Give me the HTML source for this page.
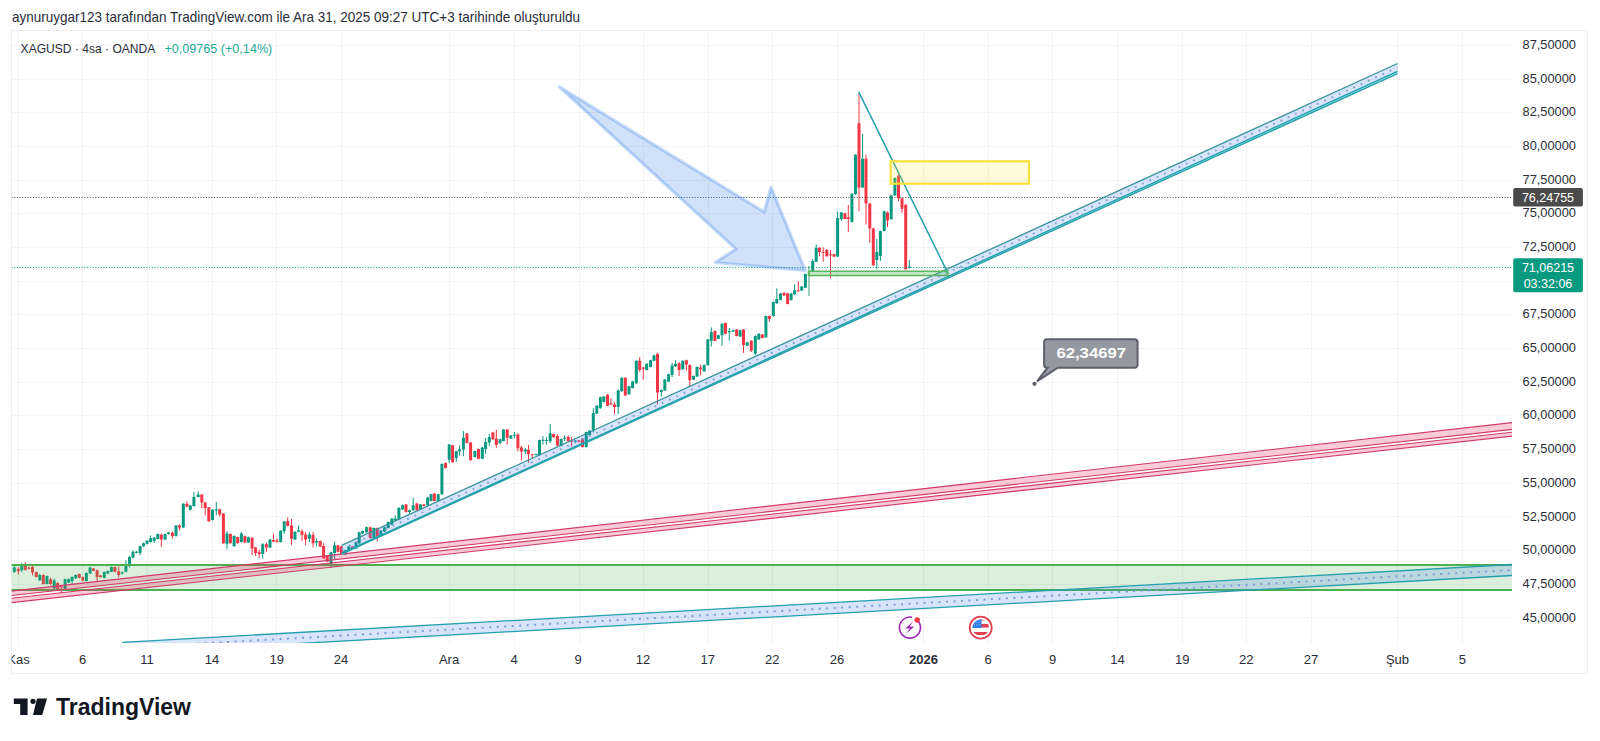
<!DOCTYPE html>
<html><head><meta charset="utf-8"><style>
html,body{margin:0;padding:0;background:#fff;width:1600px;height:741px;overflow:hidden}
svg{display:block;font-family:"Liberation Sans",sans-serif}
</style></head><body>
<svg width="1600" height="741" viewBox="0 0 1600 741">
<defs><clipPath id="pane"><rect x="11.5" y="30.5" width="1500.5" height="612.5"/></clipPath>
<clipPath id="taxis"><rect x="11.5" y="643" width="1500.5" height="30.5"/></clipPath></defs>
<rect x="0" y="0" width="1600" height="741" fill="#fff"/>
<text x="12" y="21.6" font-size="14.5" fill="#2a2e39" textLength="568" lengthAdjust="spacingAndGlyphs">aynuruygar123 tarafından TradingView.com ile Ara 31, 2025 09:27 UTC+3 tarihinde oluşturuldu</text>
<rect x="11.5" y="30.5" width="1576.0" height="643.0" fill="none" stroke="#eeeeee" stroke-width="1"/>
<g stroke="#f3f3f5" stroke-width="1"><line x1="11.5" y1="45.5" x2="1512" y2="45.5"/><line x1="11.5" y1="79.5" x2="1512" y2="79.5"/><line x1="11.5" y1="112.5" x2="1512" y2="112.5"/><line x1="11.5" y1="146.5" x2="1512" y2="146.5"/><line x1="11.5" y1="180.5" x2="1512" y2="180.5"/><line x1="11.5" y1="213.5" x2="1512" y2="213.5"/><line x1="11.5" y1="247.5" x2="1512" y2="247.5"/><line x1="11.5" y1="281.5" x2="1512" y2="281.5"/><line x1="11.5" y1="314.5" x2="1512" y2="314.5"/><line x1="11.5" y1="348.5" x2="1512" y2="348.5"/><line x1="11.5" y1="382.5" x2="1512" y2="382.5"/><line x1="11.5" y1="415.5" x2="1512" y2="415.5"/><line x1="11.5" y1="449.5" x2="1512" y2="449.5"/><line x1="11.5" y1="483.5" x2="1512" y2="483.5"/><line x1="11.5" y1="516.5" x2="1512" y2="516.5"/><line x1="11.5" y1="550.5" x2="1512" y2="550.5"/><line x1="11.5" y1="584.5" x2="1512" y2="584.5"/><line x1="11.5" y1="617.5" x2="1512" y2="617.5"/><line x1="18.5" y1="30.5" x2="18.5" y2="643"/><line x1="82.5" y1="30.5" x2="82.5" y2="643"/><line x1="147.5" y1="30.5" x2="147.5" y2="643"/><line x1="212.5" y1="30.5" x2="212.5" y2="643"/><line x1="276.5" y1="30.5" x2="276.5" y2="643"/><line x1="341.5" y1="30.5" x2="341.5" y2="643"/><line x1="449.5" y1="30.5" x2="449.5" y2="643"/><line x1="514.5" y1="30.5" x2="514.5" y2="643"/><line x1="579.5" y1="30.5" x2="579.5" y2="643"/><line x1="643.5" y1="30.5" x2="643.5" y2="643"/><line x1="708.5" y1="30.5" x2="708.5" y2="643"/><line x1="772.5" y1="30.5" x2="772.5" y2="643"/><line x1="837.5" y1="30.5" x2="837.5" y2="643"/><line x1="923.5" y1="30.5" x2="923.5" y2="643"/><line x1="988.5" y1="30.5" x2="988.5" y2="643"/><line x1="1052.5" y1="30.5" x2="1052.5" y2="643"/><line x1="1117.5" y1="30.5" x2="1117.5" y2="643"/><line x1="1182.5" y1="30.5" x2="1182.5" y2="643"/><line x1="1246.5" y1="30.5" x2="1246.5" y2="643"/><line x1="1311.5" y1="30.5" x2="1311.5" y2="643"/><line x1="1397.5" y1="30.5" x2="1397.5" y2="643"/><line x1="1462.5" y1="30.5" x2="1462.5" y2="643"/></g><g clip-path="url(#pane)"><path d="M14.3 566.0V573.0M21.8 563.0V572.0M39.8 574.0V581.0M47.0 575.5V584.4M54.2 578.8V590.0M65.1 578.5V590.0M68.6 578.5V583.0M72.1 576.4V584.0M75.7 574.5V579.0M86.4 572.5V581.6M90.1 567.0V574.0M104.3 571.5V578.3M107.8 570.5V574.0M111.4 566.5V572.2M122.3 571.5V574.5M125.9 560.3V572.2M129.5 556.0V567.5M133.0 550.5V558.3M136.5 551.0V553.5M140.1 545.6V555.3M143.6 542.5V547.0M147.1 540.0V544.5M150.6 535.3V542.6M154.2 537.0V543.0M157.8 533.5V539.5M165.1 533.5V540.0M168.5 532.0V534.5M176.0 525.0V536.5M183.3 503.2V528.0M190.3 505.0V510.3M193.9 492.1V506.6M198.2 491.2V497.6M212.5 509.3V520.6M216.3 501.9V515.2M227.0 531.0V549.2M234.1 535.4V546.7M241.4 532.0V542.4M248.4 536.7V543.1M262.7 543.2V558.8M270.0 538.9V548.0M280.7 530.3V542.5M284.2 521.0V533.9M295.0 531.3V539.9M298.6 525.4V532.3M309.4 532.4V542.0M316.6 538.3V546.4M331.0 551.8V568.0M334.6 541.5V559.4M345.2 549.7V555.0M348.8 545.9V551.2M356.0 541.5V549.1M359.2 531.7V543.7M362.6 530.5V533.9M366.5 526.7V532.7M373.9 527.5V538.6M380.8 530.0V535.3M384.5 526.7V531.9M388.2 521.6V528.5M391.8 518.2V525.1M395.2 515.4V521.3M398.9 507.3V520.1M402.6 504.7V510.0M409.5 509.5V513.6M413.2 497.6V510.8M420.5 503.9V510.0M427.6 497.1V505.7M431.0 493.8V501.5M438.2 493.8V501.5M441.9 463.4V494.8M449.2 444.0V463.0M456.3 450.7V462.0M459.6 445.3V455.5M463.4 431.0V456.3M474.9 450.5V457.6M482.3 446.9V459.2M485.6 438.0V453.9M489.3 434.0V446.2M500.0 438.8V443.8M503.4 429.1V441.4M510.9 435.1V439.0M514.4 432.0V438.5M525.3 447.8V454.3M536.0 453.4V455.6M539.5 439.6V455.6M542.9 436.0V444.6M546.4 436.9V444.6M550.2 423.9V443.0M561.1 438.4V446.3M564.6 435.2V441.0M575.3 440.0V442.2M586.2 431.5V447.5M589.6 430.1V435.5M593.3 408.2V432.5M596.8 405.2V414.1M600.4 396.7V408.7M603.8 396.1V402.5M618.2 389.3V414.2M621.7 377.3V391.7M629.0 385.8V394.7M632.6 380.9V388.6M636.3 360.3V383.8M646.7 363.3V370.4M650.6 359.7V367.4M654.0 354.8V361.3M661.3 389.3V396.6M664.8 379.1V391.0M668.6 373.7V381.9M672.1 363.0V377.0M675.5 360.2V367.0M682.8 360.3V369.8M693.5 375.5V380.1M697.0 366.4V377.1M704.2 364.5V371.8M707.8 338.9V365.5M711.3 327.4V346.5M718.4 334.7V339.2M722.0 323.3V345.8M729.3 328.0V340.8M733.0 329.7V332.1M740.1 329.7V337.1M747.2 341.8V346.3M755.3 335.4V355.0M758.8 333.3V339.9M765.9 315.5V337.8M773.3 301.4V316.5M776.8 288.4V304.0M780.5 292.9V300.3M791.1 292.9V300.5M794.6 284.5V295.0M801.7 286.0V291.1M805.4 273.5V288.2M812.7 259.0V272.0M816.2 244.4V262.3M837.6 211.6V257.1M841.3 211.9V221.0M851.9 193.3V222.6M855.5 154.2V194.7M862.6 133.7V188.1M876.8 239.0V269.2M880.4 230.5V261.0M884.2 210.8V231.5M891.2 195.0V219.7M894.9 177.5V196.0M909.4 260.0V268.5" stroke="#089981" stroke-width="1" fill="none"/><path d="M18.3 567.4V574.5M25.3 562.2V570.7M28.9 566.5V569.5M32.5 564.6V575.4M36.3 571.5V577.5M43.3 574.5V584.5M50.6 577.8V585.4M57.7 582.0V590.1M61.3 585.8V593.0M79.3 573.5V578.3M82.8 576.5V581.5M93.5 568.0V571.2M97.1 569.5V582.0M100.5 575.0V577.5M114.9 566.5V572.2M118.7 566.5V577.3M161.3 533.4V546.8M172.4 531.6V538.9M179.5 524.3V530.4M186.9 501.3V507.3M201.8 494.0V508.5M205.2 502.0V515.2M208.8 507.0V521.8M219.7 508.7V516.5M223.4 513.0V543.7M230.4 533.5V543.7M237.7 536.6V543.7M244.9 535.7V543.1M252.1 537.3V555.0M255.6 547.0V556.0M259.2 549.6V558.3M266.4 542.6V551.8M273.5 534.0V542.0M277.0 538.3V542.6M287.7 517.3V526.4M291.5 518.9V544.8M302.0 529.1V541.0M305.6 531.8V545.3M313.1 531.8V547.5M320.2 540.5V546.9M323.6 543.0V558.8M327.2 555.6V562.0M338.0 544.8V552.3M341.4 545.9V554.5M352.4 545.9V548.5M370.2 526.7V538.6M377.3 527.5V541.5M406.0 503.9V512.5M416.9 503.0V510.8M423.9 503.9V506.6M434.3 492.9V501.5M445.6 462.5V468.6M452.6 444.8V462.7M466.9 433.0V443.3M470.6 442.0V460.8M478.5 448.5V459.2M492.9 431.9V439.8M496.3 429.6V447.8M507.2 429.1V444.6M517.9 433.2V451.4M521.4 445.8V460.7M528.5 445.0V462.8M532.2 453.9V458.7M553.6 433.5V437.8M557.4 434.0V445.9M568.2 435.2V441.7M571.6 436.9V446.6M578.9 440.0V442.2M582.5 438.0V447.5M607.5 394.3V406.2M610.9 398.4V405.0M614.5 402.0V414.2M625.3 377.3V395.9M639.7 357.1V371.7M643.3 366.9V379.6M657.5 352.9V404.5M679.1 362.0V376.0M686.4 359.7V370.5M689.8 364.5V385.7M700.6 364.5V375.4M714.9 330.4V341.3M725.5 322.6V334.3M736.6 329.0V336.4M743.5 329.0V352.9M751.3 340.3V352.0M762.3 334.0V338.5M769.4 315.5V321.7M784.0 292.2V296.0M787.6 292.9V304.5M798.3 281.3V291.8M819.5 247.2V256.2M823.2 247.3V261.8M826.8 249.2V256.7M830.5 250.1V278.4M834.0 253.7V257.1M844.9 212.7V219.4M848.3 205.0V231.9M859.0 92.9V211.3M866.0 154.7V224.5M869.8 202.9V242.9M873.3 227.9V265.8M887.5 211.5V227.0M898.5 174.5V201.0M902.0 197.7V213.0M905.7 204.2V269.7" stroke="#f23645" stroke-width="1" fill="none"/><path d="M12.8 567.4h3V571.7h-3zM20.3 565.0h3V570.2h-3zM38.3 575.0h3V580.2h-3zM45.5 575.9h3V584.0h-3zM52.7 580.6h3V588.2h-3zM63.6 579.2h3V589.6h-3zM67.1 579.2h3V582.5h-3zM70.6 576.9h3V581.1h-3zM74.2 575.0h3V578.3h-3zM84.9 573.0h3V581.1h-3zM88.6 567.4h3V573.6h-3zM102.8 572.1h3V577.8h-3zM106.3 571.0h3V573.6h-3zM109.9 567.0h3V571.7h-3zM120.8 572.6h3V573.6h-3zM124.4 564.6h3V571.7h-3zM128.0 557.1h3V565.0h-3zM131.5 551.7h3V557.7h-3zM135.0 551.7h3V552.7h-3zM138.6 546.2h3V552.9h-3zM142.1 543.2h3V546.2h-3zM145.6 540.7h3V543.8h-3zM149.1 538.3h3V541.9h-3zM152.7 537.7h3V540.7h-3zM156.3 534.0h3V538.9h-3zM163.6 534.0h3V539.5h-3zM167.0 532.5h3V534.0h-3zM174.5 525.5h3V535.9h-3zM181.8 503.7h3V527.4h-3zM188.8 505.5h3V509.8h-3zM192.4 497.0h3V506.1h-3zM196.7 494.6h3V497.0h-3zM211.0 509.8h3V520.1h-3zM214.8 509.2h3V510.4h-3zM225.5 533.4h3V543.8h-3zM232.6 535.9h3V546.2h-3zM239.9 533.4h3V541.9h-3zM246.9 537.2h3V542.6h-3zM261.2 544.2h3V554.0h-3zM268.5 539.4h3V547.5h-3zM279.2 530.8h3V542.0h-3zM282.7 521.6h3V531.3h-3zM293.5 531.8h3V539.4h-3zM297.1 530.2h3V531.8h-3zM307.9 534.5h3V538.8h-3zM315.1 541.0h3V542.6h-3zM329.5 552.3h3V564.7h-3zM333.1 545.3h3V552.9h-3zM343.7 550.2h3V554.5h-3zM347.3 546.4h3V550.7h-3zM354.5 542.0h3V548.6h-3zM357.7 532.2h3V543.2h-3zM361.1 531.0h3V533.4h-3zM365.0 527.2h3V532.2h-3zM372.4 528.0h3V538.1h-3zM379.3 530.5h3V534.8h-3zM383.0 527.2h3V531.4h-3zM386.7 522.1h3V528.0h-3zM390.3 518.7h3V524.6h-3zM393.7 518.4h3V520.4h-3zM397.4 507.8h3V519.6h-3zM401.1 505.2h3V509.5h-3zM408.0 510.3h3V512.0h-3zM411.7 505.2h3V510.3h-3zM419.0 504.4h3V509.5h-3zM426.1 497.6h3V505.2h-3zM429.5 494.3h3V501.0h-3zM436.7 494.3h3V501.0h-3zM440.4 463.9h3V494.3h-3zM447.7 444.5h3V459.7h-3zM454.8 451.2h3V458.0h-3zM458.1 449.5h3V451.2h-3zM461.9 437.7h3V449.5h-3zM473.4 451.0h3V457.1h-3zM480.8 447.4h3V458.7h-3zM484.1 442.1h3V449.0h-3zM487.8 436.9h3V442.5h-3zM498.5 439.3h3V443.3h-3zM501.9 429.6h3V440.9h-3zM509.4 435.6h3V438.5h-3zM512.9 434.8h3V435.8h-3zM523.8 449.4h3V451.4h-3zM534.5 453.9h3V455.1h-3zM538.0 440.1h3V455.1h-3zM541.4 439.7h3V440.7h-3zM544.9 440.1h3V441.1h-3zM548.7 433.2h3V441.3h-3zM559.6 438.9h3V445.8h-3zM563.1 437.7h3V438.7h-3zM573.8 440.5h3V441.7h-3zM584.7 432.0h3V447.0h-3zM588.1 430.6h3V435.0h-3zM591.8 413.0h3V430.0h-3zM595.3 405.7h3V413.6h-3zM598.9 397.2h3V408.2h-3zM602.3 396.6h3V402.0h-3zM616.7 390.5h3V407.0h-3zM620.2 377.8h3V391.2h-3zM627.5 386.3h3V394.2h-3zM631.1 381.4h3V388.1h-3zM634.8 360.8h3V383.3h-3zM645.2 363.8h3V369.9h-3zM649.1 360.2h3V366.9h-3zM652.5 355.3h3V360.8h-3zM659.8 390.0h3V392.0h-3zM663.3 379.6h3V390.5h-3zM667.1 374.2h3V381.4h-3zM670.6 365.6h3V374.8h-3zM674.0 363.8h3V366.3h-3zM681.3 360.8h3V369.3h-3zM692.0 376.0h3V379.6h-3zM695.5 366.9h3V376.6h-3zM702.7 365.0h3V371.3h-3zM706.3 339.4h3V365.0h-3zM709.8 332.3h3V340.8h-3zM716.9 335.2h3V338.7h-3zM720.5 323.8h3V335.2h-3zM727.8 330.9h3V332.3h-3zM731.5 330.2h3V331.6h-3zM738.6 330.2h3V336.6h-3zM745.7 342.3h3V345.8h-3zM753.8 335.9h3V353.6h-3zM757.3 333.8h3V339.4h-3zM764.4 316.0h3V337.3h-3zM771.8 301.9h3V316.0h-3zM775.3 299.0h3V303.3h-3zM779.0 293.4h3V299.8h-3zM789.6 293.4h3V300.0h-3zM793.1 290.2h3V294.2h-3zM800.2 286.5h3V290.6h-3zM803.9 274.0h3V287.7h-3zM811.2 261.0h3V271.5h-3zM814.7 247.7h3V261.8h-3zM836.1 218.0h3V256.6h-3zM839.8 212.4h3V218.9h-3zM850.4 193.8h3V222.1h-3zM854.0 154.7h3V194.2h-3zM861.1 158.7h3V187.6h-3zM875.3 252.1h3V260.0h-3zM878.9 231.0h3V256.0h-3zM882.7 211.3h3V231.0h-3zM889.7 195.5h3V219.2h-3zM893.4 178.0h3V195.5h-3zM907.9 266.6h3V268.0h-3z" fill="#089981"/><path d="M16.8 568.8h3V571.2h-3zM23.8 564.0h3V569.8h-3zM27.4 567.4h3V568.8h-3zM31.0 567.0h3V572.6h-3zM34.8 572.1h3V576.9h-3zM41.8 575.0h3V584.0h-3zM49.1 579.2h3V584.0h-3zM56.2 583.0h3V589.6h-3zM59.8 586.3h3V587.3h-3zM77.8 574.0h3V577.8h-3zM81.3 577.3h3V580.6h-3zM92.0 568.4h3V570.7h-3zM95.6 570.2h3V576.9h-3zM99.0 575.4h3V576.9h-3zM113.4 567.0h3V571.7h-3zM117.2 571.2h3V575.0h-3zM159.8 534.7h3V539.5h-3zM170.9 532.8h3V535.9h-3zM178.0 525.5h3V527.4h-3zM185.4 503.7h3V506.7h-3zM200.3 494.6h3V502.5h-3zM203.7 502.5h3V507.9h-3zM207.3 507.3h3V521.3h-3zM218.2 509.2h3V514.6h-3zM221.9 513.4h3V543.2h-3zM228.9 534.0h3V543.2h-3zM236.2 537.1h3V543.2h-3zM243.4 536.2h3V542.6h-3zM250.6 537.8h3V548.6h-3zM254.1 547.5h3V552.9h-3zM257.7 552.3h3V554.0h-3zM264.9 544.2h3V547.5h-3zM272.0 540.0h3V541.5h-3zM275.5 540.5h3V542.0h-3zM286.2 521.0h3V525.9h-3zM290.0 525.4h3V538.8h-3zM300.5 531.3h3V535.1h-3zM304.1 534.5h3V539.4h-3zM311.6 535.0h3V543.2h-3zM318.7 541.0h3V546.4h-3zM322.1 545.9h3V558.3h-3zM325.7 556.1h3V561.5h-3zM336.5 545.3h3V551.8h-3zM339.9 546.4h3V554.0h-3zM350.9 546.4h3V548.0h-3zM368.7 527.2h3V538.1h-3zM375.8 528.0h3V536.5h-3zM404.5 504.4h3V512.0h-3zM415.4 503.5h3V510.3h-3zM422.4 504.4h3V506.1h-3zM432.8 493.4h3V501.0h-3zM444.1 463.0h3V468.1h-3zM451.1 445.3h3V462.2h-3zM465.4 433.5h3V442.8h-3zM469.1 442.5h3V460.3h-3zM477.0 449.0h3V458.7h-3zM491.4 432.4h3V439.3h-3zM494.8 438.5h3V445.0h-3zM505.7 429.6h3V437.7h-3zM516.4 434.4h3V448.2h-3zM519.9 447.4h3V451.4h-3zM527.0 449.8h3V453.9h-3zM530.7 454.3h3V455.3h-3zM552.1 434.0h3V437.3h-3zM555.9 436.0h3V445.4h-3zM566.7 436.9h3V440.9h-3zM570.1 440.5h3V441.5h-3zM577.4 440.5h3V441.7h-3zM581.0 438.5h3V447.0h-3zM606.0 394.8h3V405.7h-3zM609.4 403.3h3V404.5h-3zM613.0 404.5h3V407.0h-3zM623.8 377.8h3V395.4h-3zM638.2 360.8h3V369.9h-3zM641.8 367.5h3V368.7h-3zM656.0 354.1h3V392.4h-3zM677.6 363.2h3V369.9h-3zM684.9 360.2h3V364.4h-3zM688.3 365.0h3V380.2h-3zM699.1 367.5h3V369.3h-3zM713.4 330.9h3V340.8h-3zM724.0 323.1h3V333.8h-3zM735.1 329.5h3V335.9h-3zM742.0 329.5h3V345.1h-3zM749.8 340.8h3V350.8h-3zM760.8 334.5h3V338.0h-3zM767.9 316.0h3V318.9h-3zM782.5 292.7h3V295.5h-3zM786.1 293.4h3V304.0h-3zM796.8 290.2h3V291.2h-3zM818.0 247.7h3V252.1h-3zM821.7 252.1h3V253.1h-3zM825.3 249.7h3V256.2h-3zM829.0 254.2h3V255.2h-3zM832.5 254.2h3V256.6h-3zM843.4 213.2h3V218.9h-3zM846.8 217.3h3V219.0h-3zM857.5 123.2h3V187.6h-3zM864.5 158.7h3V203.4h-3zM868.3 203.4h3V228.4h-3zM871.8 228.4h3V265.3h-3zM886.0 212.6h3V220.5h-3zM897.0 175.8h3V198.2h-3zM900.5 198.2h3V208.7h-3zM904.2 204.7h3V269.2h-3z" fill="#f23645"/><line x1="809" y1="266" x2="809" y2="296" stroke="#9ccfbf" stroke-width="2"/><line x1="11.5" y1="197.5" x2="1512" y2="197.5" stroke="#555" stroke-width="1" stroke-dasharray="1 1.7"/><line x1="11.5" y1="267.5" x2="1512" y2="267.5" stroke="#089981" stroke-width="1" stroke-dasharray="1 1.7"/><rect x="11.5" y="565" width="1500.5" height="25" fill="rgba(76,175,80,0.2)"/><line x1="11.5" y1="565" x2="1512" y2="565" stroke="#4caf50" stroke-width="2"/><line x1="11.5" y1="590" x2="1512" y2="590" stroke="#4caf50" stroke-width="2"/><polygon points="11.5,591.1 1512,422.6 1512,429.4 11.5,595.5" fill="rgba(242,54,110,0.26)"/><polygon points="11.5,598.3 1512,432.2 1512,436.1 11.5,602.6" fill="rgba(242,54,110,0.26)"/><line x1="11.5" y1="591.1" x2="1512" y2="422.6" stroke="#d03a6a" stroke-width="1.1"/><line x1="11.5" y1="595.5" x2="1512" y2="429.4" stroke="#d03a6a" stroke-width="1.1"/><line x1="11.5" y1="598.3" x2="1512" y2="432.2" stroke="#d03a6a" stroke-width="1.1"/><line x1="11.5" y1="602.6" x2="1512" y2="436.1" stroke="#d03a6a" stroke-width="1.1"/><polygon points="341.6,545.3 1397.5,63.5 1397.5,71.4 341.6,553.1999999999999" fill="rgba(60,120,240,0.2)"/><polygon points="341.6,553.1999999999999 1397.5,71.4 1397.5,73.60000000000001 341.6,553.9999999999999" fill="rgba(0,200,220,0.35)"/><line x1="341.6" y1="545.3" x2="1397.5" y2="63.5" stroke="#3a949c" stroke-width="1.3"/><line x1="341.6" y1="553.1999999999999" x2="1397.5" y2="71.4" stroke="#23a0ac" stroke-width="1.4"/><line x1="341.6" y1="553.9999999999999" x2="1397.5" y2="73.60000000000001" stroke="#23a0ac" stroke-width="1.4"/><line x1="341.6" y1="549.25" x2="1397.5" y2="67.45" stroke="#7f9fd0" stroke-width="1.8" stroke-dasharray="1.8 6.2"/><polygon points="122.3,642.4 1512,564.5 1512,575.5 122.3,653.4" fill="rgba(60,120,240,0.2)"/><line x1="122.3" y1="642.4" x2="1512" y2="564.5" stroke="#23a0ac" stroke-width="1.3"/><line x1="122.3" y1="653.4" x2="1512" y2="575.5" stroke="#23a0ac" stroke-width="1.3"/><line x1="122.3" y1="647.9" x2="1512" y2="570.0" stroke="#7f9fd0" stroke-width="2" stroke-dasharray="2 5.5"/><polygon points="559.3,86.9 764.2,212 771,187.3 805.2,270.5 715.2,262.5 736,249.1" fill="rgba(41,120,230,0.22)" stroke="rgba(41,120,230,0.28)" stroke-width="3.2" stroke-linejoin="round"/><line x1="858.7" y1="91.9" x2="947.4" y2="272.1" stroke="#23a0ac" stroke-width="1.5"/><rect x="808.5" y="271.3" width="139.5" height="4.2" fill="rgba(76,175,80,0.28)" stroke="#5cb860" stroke-width="1.6"/><rect x="890.7" y="161.3" width="138.3" height="22.4" fill="rgba(255,235,59,0.2)" stroke="#f9e13c" stroke-width="2.2"/><path d="M1047.1 339.2 h87.5 a3 3 0 0 1 3 3 v22.5 a3 3 0 0 1 -3 3 h-76.8 l-20.8 13.6 l10.5 -13.6 h-0.4 a3 3 0 0 1 -3 -3 v-22.5 a3 3 0 0 1 3 -3z" fill="#9598a1" stroke="#5d606b" stroke-width="2" stroke-linejoin="miter"/><circle cx="1034.5" cy="383.8" r="2.1" fill="#5d606b"/><text x="1056.4" y="358.2" font-family="Liberation Sans" font-weight="bold" font-size="15.5" fill="#fff" textLength="69.7" lengthAdjust="spacingAndGlyphs">62,34697</text><g><path d="M918.5 621.5 A10.5 10.5 0 1 1 912 617.3" fill="none" stroke="#9c27b0" stroke-width="1.6"/><circle cx="917.2" cy="620" r="2.7" fill="#f23645"/><path d="M913.2 621.6 L905.2 628.6 L909.8 628.6 L906.2 633.8 L914.2 626.6 L909.6 626.6 Z" fill="#9c27b0"/></g><g><circle cx="980.7" cy="627.7" r="11" fill="#fff" stroke="#e04050" stroke-width="1.8"/><clipPath id="flag"><circle cx="980.7" cy="627.7" r="8.2"/></clipPath><g clip-path="url(#flag)"><rect x="970" y="617" width="22" height="22" fill="#fff"/><rect x="970" y="617" width="22" height="3.5" fill="#e04050"/><rect x="970" y="624" width="22" height="3.5" fill="#e04050"/><rect x="970" y="632" width="22" height="3" fill="#e04050"/><rect x="970" y="617" width="11.5" height="11" fill="#2f80ed"/><circle cx="974.5" cy="620.0" r="0.5" fill="#bcd6fb"/><circle cx="974.5" cy="622.4" r="0.5" fill="#bcd6fb"/><circle cx="974.5" cy="624.8" r="0.5" fill="#bcd6fb"/><circle cx="976.9" cy="620.0" r="0.5" fill="#bcd6fb"/><circle cx="976.9" cy="622.4" r="0.5" fill="#bcd6fb"/><circle cx="976.9" cy="624.8" r="0.5" fill="#bcd6fb"/><circle cx="979.3" cy="620.0" r="0.5" fill="#bcd6fb"/><circle cx="979.3" cy="622.4" r="0.5" fill="#bcd6fb"/><circle cx="979.3" cy="624.8" r="0.5" fill="#bcd6fb"/></g></g></g>
<text x="20.6" y="52.5" font-size="13.6" fill="#2a2e39" textLength="134.7" lengthAdjust="spacingAndGlyphs">XAGUSD · 4sa · OANDA</text>
<text x="164.4" y="52.5" font-size="13.6" fill="#22ab94" textLength="107.9" lengthAdjust="spacingAndGlyphs">+0,09765 (+0,14%)</text>
<g font-size="13.5" fill="#2a2e39"><text x="1522.5" y="49.0" textLength="53.5" lengthAdjust="spacingAndGlyphs">87,50000</text><text x="1522.5" y="82.7" textLength="53.5" lengthAdjust="spacingAndGlyphs">85,00000</text><text x="1522.5" y="116.4" textLength="53.5" lengthAdjust="spacingAndGlyphs">82,50000</text><text x="1522.5" y="150.0" textLength="53.5" lengthAdjust="spacingAndGlyphs">80,00000</text><text x="1522.5" y="183.7" textLength="53.5" lengthAdjust="spacingAndGlyphs">77,50000</text><text x="1522.5" y="217.4" textLength="53.5" lengthAdjust="spacingAndGlyphs">75,00000</text><text x="1522.5" y="251.1" textLength="53.5" lengthAdjust="spacingAndGlyphs">72,50000</text><text x="1522.5" y="284.7" textLength="53.5" lengthAdjust="spacingAndGlyphs">70,00000</text><text x="1522.5" y="318.4" textLength="53.5" lengthAdjust="spacingAndGlyphs">67,50000</text><text x="1522.5" y="352.1" textLength="53.5" lengthAdjust="spacingAndGlyphs">65,00000</text><text x="1522.5" y="385.8" textLength="53.5" lengthAdjust="spacingAndGlyphs">62,50000</text><text x="1522.5" y="419.4" textLength="53.5" lengthAdjust="spacingAndGlyphs">60,00000</text><text x="1522.5" y="453.1" textLength="53.5" lengthAdjust="spacingAndGlyphs">57,50000</text><text x="1522.5" y="486.8" textLength="53.5" lengthAdjust="spacingAndGlyphs">55,00000</text><text x="1522.5" y="520.5" textLength="53.5" lengthAdjust="spacingAndGlyphs">52,50000</text><text x="1522.5" y="554.1" textLength="53.5" lengthAdjust="spacingAndGlyphs">50,00000</text><text x="1522.5" y="587.8" textLength="53.5" lengthAdjust="spacingAndGlyphs">47,50000</text><text x="1522.5" y="621.5" textLength="53.5" lengthAdjust="spacingAndGlyphs">45,00000</text></g>
<rect x="1513.2" y="188.1" width="69.7" height="18.3" rx="2" fill="#4a4a4a"/>
<text x="1548" y="201.8" text-anchor="middle" font-size="12.5" fill="#fff">76,24755</text>
<rect x="1513.2" y="258.3" width="69.7" height="34" rx="2" fill="#089981"/>
<text x="1548" y="271.5" text-anchor="middle" font-size="12.5" fill="#fff">71,06215</text>
<text x="1548" y="287.5" text-anchor="middle" font-size="12.5" fill="#fff">03:32:06</text>
<g font-size="13" fill="#2a2e39" clip-path="url(#taxis)"><text x="18.5" y="663.5" text-anchor="middle">Kas</text><text x="82.5" y="663.5" text-anchor="middle">6</text><text x="147" y="663.5" text-anchor="middle">11</text><text x="212" y="663.5" text-anchor="middle">14</text><text x="276.7" y="663.5" text-anchor="middle">19</text><text x="341" y="663.5" text-anchor="middle">24</text><text x="449" y="663.5" text-anchor="middle">Ara</text><text x="514" y="663.5" text-anchor="middle">4</text><text x="578" y="663.5" text-anchor="middle">9</text><text x="643" y="663.5" text-anchor="middle">12</text><text x="707.7" y="663.5" text-anchor="middle">17</text><text x="772.2" y="663.5" text-anchor="middle">22</text><text x="837" y="663.5" text-anchor="middle">26</text><text x="923.4" y="663.5" text-anchor="middle" font-weight="bold">2026</text><text x="988" y="663.5" text-anchor="middle">6</text><text x="1052.6" y="663.5" text-anchor="middle">9</text><text x="1117.4" y="663.5" text-anchor="middle">14</text><text x="1182.2" y="663.5" text-anchor="middle">19</text><text x="1246.3" y="663.5" text-anchor="middle">22</text><text x="1311.1" y="663.5" text-anchor="middle">27</text><text x="1397.5" y="663.5" text-anchor="middle">Şub</text><text x="1462.3" y="663.5" text-anchor="middle">5</text></g>
<path d="M13.8 698.5 H27.6 V715 H20.2 V704 H13.8 Z" fill="#131722"/>
<circle cx="33" cy="701.3" r="2.6" fill="#131722"/>
<path d="M37 698.5 H47.1 L42.2 715 H33 Z" fill="#131722"/>
<text x="56" y="715" font-size="23.5" font-weight="bold" fill="#131722" textLength="135" lengthAdjust="spacingAndGlyphs">TradingView</text>
</svg>
</body></html>
